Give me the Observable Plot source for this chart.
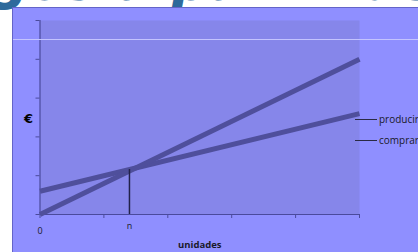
<!DOCTYPE html>
<html><head><meta charset="utf-8">
<script src="https://cdn.jsdelivr.net/npm/d3@7"></script>
<script src="https://cdn.jsdelivr.net/npm/@observablehq/plot@0.6"></script>
<style>
body{margin:0;background:#fff;width:418px;height:252px;overflow:hidden;position:relative;font-family:"Open Sans",sans-serif}
#title{position:absolute;left:-6px;top:-44px;font:italic bold 46px "DejaVu Sans";color:#2e6a9c;white-space:nowrap;letter-spacing:4px;-webkit-text-stroke:2px #2e6a9c}
#area{position:absolute;left:12px;top:7px;right:0;bottom:0;background:#8f8fff;border-left:1px solid #6464c8;border-top:1px solid #6464c8}
#hl{position:absolute;left:13px;right:0;top:39px;height:1px;background:#c4c4ff}
#chart{position:absolute;left:0;top:0}
.leg{position:absolute;font-size:10px;color:#1a1a2a;white-space:nowrap;line-height:12px}
.legline{position:absolute;height:1px;background:#2a2a44;width:22px}
#euro{position:absolute;left:24px;top:111px;font:bold 13px "DejaVu Sans";color:#000}
</style></head>
<body>
<div id="title">gos a partir de un año</div>
<div id="area"></div>
<div id="chart"></div>
<div id="hl"></div>
<div id="euro">€</div>
<script>
const xs = [0, 5];
const comprar = [0, 4.0];
const producir = [0.6, 2.6];
const seriesNames = ["producir", "comprar"];
const nValue = 1.4;
const yTicks = [0, 1, 2, 3, 4, 5];
const xTicks = [0, 1, 2, 3, 4, 5];
const xLabel = "unidades";

const data = [
  ...xs.map((x, i) => ({x, y: producir[i], s: seriesNames[0]})),
  ...xs.map((x, i) => ({x, y: comprar[i], s: seriesNames[1]}))
];
const yAtN = producir[0] + (producir[1] - producir[0]) * (nValue - xs[0]) / (xs[1] - xs[0]);

const axisColor = "#4a4a9c";
const plot = Plot.plot({
  width: 418, height: 252,
  marginLeft: 39.5, marginRight: 59, marginTop: 20, marginBottom: 38,
  x: {domain: [0, 5]}, y: {domain: [0, 5]},
  style: {background: "transparent", overflow: "visible", fontFamily: "Open Sans, sans-serif", fontSize: "9px", color: "#1a1a2a"},
  marks: [
    Plot.frame({fill: "#8686ea", stroke: null}),
    Plot.axisY(yTicks, {tickSize: 4, tickFormat: () => "", label: null, stroke: axisColor}),
    Plot.axisX(xTicks, {tickSize: 4, tickFormat: () => "", label: null, stroke: axisColor}),
    Plot.axisX([], {label: xLabel, labelAnchor: "center", labelArrow: "none", labelOffset: 33, fontWeight: "bold", fontSize: 9.5, fill: "#1a1a2a"}),
    Plot.ruleX([0], {stroke: axisColor, strokeWidth: 1.2}),
    Plot.ruleY([0], {stroke: axisColor, strokeWidth: 1.2}),
    Plot.line(data, {x: "x", y: "y", z: "s", stroke: "#4f4f9c", strokeWidth: 5, strokeLinecap: "butt"}),
    Plot.ruleX([nValue], {y1: 0, y2: yAtN, stroke: "#22224a", strokeWidth: 1.5}),
    Plot.text([0], {x: d => d, y: 0, dy: 17, text: d => String(d), fill: "#1a1a2a"}),
    Plot.text([nValue], {x: d => d, y: 0, dy: 12, text: () => "n", fill: "#1a1a2a"})
  ]
});
document.getElementById("chart").appendChild(plot);

// legend
const legTop = [119, 140];
seriesNames.forEach((name, i) => {
  const l = document.createElement("div");
  l.className = "legline"; l.style.left = "355px"; l.style.top = legTop[i] + "px";
  document.body.appendChild(l);
  const t = document.createElement("div");
  t.className = "leg"; t.style.left = "379px"; t.style.top = (legTop[i] - 6) + "px";
  t.textContent = name;
  document.body.appendChild(t);
});
</script>
</body></html>
